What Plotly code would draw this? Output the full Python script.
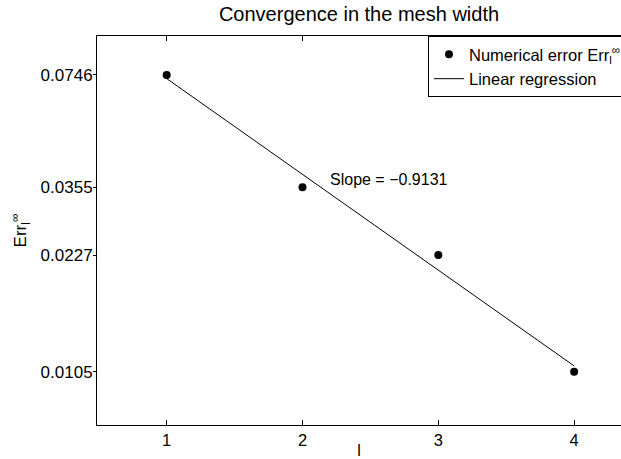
import numpy as np
import plotly.graph_objects as go

levels = [1, 2, 3, 4]
errors = [0.0746, 0.0355, 0.0227, 0.0105]
ytick_labels = ["0.0746", "0.0355", "0.0227", "0.0105"]
xtick_labels = ["1", "2", "3", "4"]

# linear regression of log2(error) against level
slope, intercept = np.polyfit(levels, np.log2(errors), 1)
fit_x = np.array(levels, dtype=float)
fit_y = 2.0 ** (intercept + slope * fit_x)

FONT = "Liberation Sans, Arial, Helvetica, sans-serif"

fig = go.Figure()
fig.add_trace(go.Scatter(
    x=levels, y=errors, mode="markers",
    marker=dict(color="black", size=8, symbol="circle"),
    name="Numerical error Err<sub>l</sub><sup>∞</sup>",
))
fig.add_trace(go.Scatter(
    x=fit_x, y=fit_y, mode="lines",
    line=dict(color="black", width=1),
    name="Linear regression",
))

fig.add_annotation(
    x=2.185, y=-1.4275, xref="x", yref="y",
    text=f"Slope = {slope:.4f}".replace("-", "−"),
    showarrow=False, xanchor="left", yanchor="middle",
    font=dict(family=FONT, size=16, color="black"),
)

fig.update_layout(
    width=621, height=459,
    margin=dict(l=97, r=0, t=36, b=34, autoexpand=False),
    paper_bgcolor="white", plot_bgcolor="white",
    font=dict(family=FONT, size=16, color="black"),
    title=dict(text="Convergence in the mesh width", x=0.5, xref="paper",
               y=1, yref="container", yanchor="top", pad=dict(t=7),
               font=dict(family=FONT, size=20, color="black")),
    showlegend=True,
    legend=dict(x=(428 - 97) / (621 - 97), y=1, xanchor="left", yanchor="top",
                bgcolor="white", bordercolor="black", borderwidth=1,
                font=dict(family=FONT, size=16.5, color="black"),
                itemwidth=30, tracegroupgap=0),
    xaxis=dict(range=[0.487, 4.345], tickvals=levels, ticktext=xtick_labels,
               ticks="inside", ticklen=5, tickcolor="black",
               showline=True, linecolor="black", linewidth=1, mirror="ticks",
               showgrid=False, zeroline=False, automargin=False,
               title=dict(text="l", standoff=2, font=dict(size=16)),
               tickfont=dict(size=16.5)),
    yaxis=dict(type="log", range=[-2.1318, -1.0154], tickvals=errors,
               ticktext=ytick_labels,
               ticks="outside", ticklen=3, tickcolor="black",
               showline=True, linecolor="black", linewidth=1, mirror=False,
               showgrid=False, zeroline=False, automargin=False,
               ticklabelstandoff=-3,
               title=dict(text="Err<sub>l</sub><sup>∞</sup>", standoff=9,
                          font=dict(size=17)),
               tickfont=dict(size=17)),
)

fig.write_html(
    "out.html",
    config={"displayModeBar": False},
    post_script="document.body.style.margin='0';document.body.style.padding='0';",
)
